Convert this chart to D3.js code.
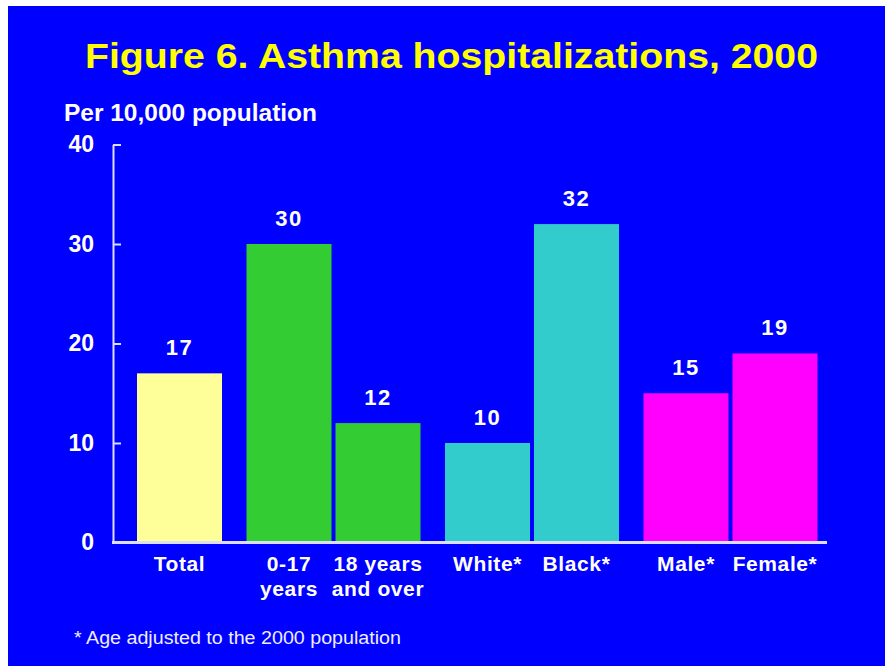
<!DOCTYPE html>
<html>
<head>
<meta charset="utf-8">
<script src="https://cdn.jsdelivr.net/npm/d3@7"></script>
<style>
  html, body { margin: 0; padding: 0; background: #fff; }
  svg { display: block; }
  text { font-family: "Liberation Sans", Arial, sans-serif; }
</style>
</head>
<body>
<svg id="chart" width="885" height="666"></svg>
<script>
// data
var categories = [["Total"], ["0-17", "years"], ["18 years", "and over"], ["White*"], ["Black*"], ["Male*"], ["Female*"]];
var values = [17, 30, 12, 10, 32, 15, 19];
var groups = [0, 1, 1, 2, 2, 3, 3];
var barColors = ["#FFFF99", "#33CC33", "#33CC33", "#33CCCC", "#33CCCC", "#FF00FF", "#FF00FF"];
var yTicks = [0, 10, 20, 30, 40];

var svg = d3.select("#chart");

// blue slide background
svg.append("rect")
    .attr("x", 8).attr("y", 6)
    .attr("width", 877).attr("height", 660)
    .attr("fill", "#0000FF");

// title
svg.append("text")
    .attr("x", 85).attr("y", 68)
    .attr("textLength", 733)
    .attr("lengthAdjust", "spacingAndGlyphs")
    .attr("fill", "#FFFF00")
    .attr("font-size", 35)
    .attr("font-weight", "bold")
    .text("Figure 6. Asthma hospitalizations, 2000");

svg.append("text")
    .attr("x", 64).attr("y", 120.5)
    .attr("textLength", 253)
    .attr("lengthAdjust", "spacingAndGlyphs")
    .attr("fill", "#fff")
    .attr("font-size", 23)
    .attr("font-weight", "bold")
    .text("Per 10,000 population");

// scales
var y = d3.scaleLinear().domain([0, 40]).range([542.5, 144.5]);
var gap = 20.5 / 89;
var x = d3.scaleLinear().domain([0, 6 + 3 * gap]).range([179.5, 775]);
var barW = 85;
function cx(i) { return x(i + groups[i] * gap); }

// axis
var axis = d3.axisLeft(y)
    .tickValues(yTicks)
    .tickSizeInner(-8)
    .tickSizeOuter(0)
    .tickPadding(19);

var gAxis = svg.append("g")
    .attr("transform", "translate(113,0)")
    .call(axis);
gAxis.select(".domain").attr("stroke", "#DDDDFF").attr("stroke-width", 2);
gAxis.selectAll(".tick line").attr("stroke", "#DDDDFF").attr("stroke-width", 2);
gAxis.selectAll(".tick text")
    .attr("fill", "#fff")
    .attr("font-size", 23)
    .attr("font-weight", "bold")
    .attr("font-family", "Liberation Sans, Arial, sans-serif");

// bars
svg.selectAll("rect.bar")
    .data(values)
    .enter().append("rect")
    .attr("class", "bar")
    .attr("x", function (d, i) { return cx(i) - barW / 2; })
    .attr("y", function (d) { return y(d); })
    .attr("width", barW)
    .attr("height", function (d) { return y(0) - y(d); })
    .attr("fill", function (d, i) { return barColors[i]; });

// baseline
svg.append("line")
    .attr("x1", 112).attr("x2", 827)
    .attr("y1", y(0)).attr("y2", y(0))
    .attr("stroke", "#DDDDFF")
    .attr("stroke-width", 3);

// value labels
svg.selectAll("text.val")
    .data(values)
    .enter().append("text")
    .attr("class", "val")
    .attr("x", function (d, i) { return cx(i); })
    .attr("y", function (d) { return y(d) - 18; })
    .attr("text-anchor", "middle")
    .attr("fill", "#fff")
    .attr("font-size", 22)
    .attr("letter-spacing", 1.5)
    .attr("font-weight", "bold")
    .text(function (d) { return d; });

// category labels
var cat = svg.selectAll("text.cat")
    .data(categories)
    .enter().append("text")
    .attr("class", "cat")
    .attr("x", function (d, i) { return cx(i); })
    .attr("y", 571)
    .attr("text-anchor", "middle")
    .attr("fill", "#fff")
    .attr("font-size", 21)
    .attr("letter-spacing", 0.6)
    .attr("font-weight", "bold");
cat.selectAll("tspan")
    .data(function (d) { return d; })
    .enter().append("tspan")
    .attr("x", function () { return d3.select(this.parentNode).attr("x"); })
    .attr("dy", function (d, j) { return j === 0 ? 0 : 25; })
    .text(function (d) { return d; });

// footnote
svg.append("text")
    .attr("x", 74).attr("y", 643.5)
    .attr("textLength", 327)
    .attr("lengthAdjust", "spacingAndGlyphs")
    .attr("fill", "#EEEEFF")
    .attr("font-size", 18)
    .text("* Age adjusted to the 2000 population");
</script>
</body>
</html>
